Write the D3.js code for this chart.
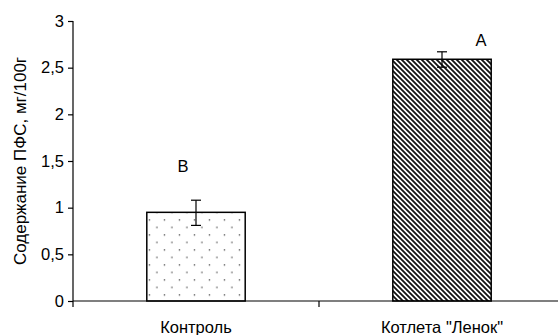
<!DOCTYPE html>
<html>
<head>
<meta charset="utf-8">
<script src="https://d3js.org/d3.v7.min.js"></script>
<style>
  body { margin: 0; background: #fff; }
  text { font-family: "Liberation Sans", Arial, sans-serif; }
</style>
</head>
<body>
<div id="chart"></div>
<script>
// data
const categories = ["Контроль", "Котлета \"Ленок\""];
const values = [0.95, 2.59];
const errLow = [0.81, 2.505];
const errHigh = [1.08, 2.67];
const letters = ["B", "A"];
const yTicks = [0, 0.5, 1, 1.5, 2, 2.5, 3];
const yTickLabels = ["0", "0,5", "1", "1,5", "2", "2,5", "3"];

const W = 558, H = 335;
const margin = {top: 21, right: -7, bottom: 34, left: 73};
const width = W - margin.left - margin.right,
      height = H - margin.top - margin.bottom;
const fs = "16.5px";

const svg = d3.select("#chart").append("svg")
    .attr("width", W)
    .attr("height", H);

const defs = svg.append("defs");

const g = svg.append("g")
    .attr("transform", "translate(" + margin.left + "," + margin.top + ")");

const x = d3.scaleBand()
    .domain(categories)
    .range([0, width])
    .paddingInner(0.6)
    .paddingOuter(0.3);

// band boundaries for the category axis ticks
const xb = d3.scaleBand().domain(categories).range([0, width]);

const y = d3.scaleLinear()
    .domain([0, 3])
    .range([height, 0]);

// patterns
const dots = defs.append("pattern")
    .attr("id", "dots")
    .attr("patternUnits", "userSpaceOnUse")
    .attr("x", margin.left + x(categories[0]))
    .attr("y", margin.top + y(values[0]))
    .attr("width", 15)
    .attr("height", 15);
dots.append("rect").attr("width", 15).attr("height", 15).attr("fill", "#fff");
dots.append("rect").attr("x", 4).attr("y", 1).attr("width", 1.2).attr("height", 1.2).attr("fill", "#222");
dots.append("rect").attr("x", 11.5).attr("y", 8.5).attr("width", 1.2).attr("height", 1.2).attr("fill", "#222");

const hatch = defs.append("pattern")
    .attr("id", "hatch")
    .attr("patternUnits", "userSpaceOnUse")
    .attr("width", 5)
    .attr("height", 5);
hatch.append("rect").attr("width", 5).attr("height", 5).attr("fill", "#fff");
hatch.append("path")
    .attr("d", "M-1,-1 L6,6 M-1,4 L1,6 M4,-1 L6,1")
    .attr("stroke", "#111")
    .attr("stroke-width", 1.8);

const fills = ["url(#dots)", "url(#hatch)"];

// bars
g.selectAll(".bar")
    .data(values)
    .enter()
    .append("rect")
    .attr("class", "bar")
    .attr("x", (d, i) => x(categories[i]))
    .attr("y", d => y(d))
    .attr("width", x.bandwidth())
    .attr("height", d => height - y(d))
    .attr("fill", (d, i) => fills[i])
    .attr("stroke", "#000")
    .attr("stroke-width", 1.5);

// error bars
const cap = 5;
values.forEach(function(d, i) {
    const cx = x(categories[i]) + x.bandwidth() / 2;
    g.append("line")
        .attr("x1", cx).attr("x2", cx)
        .attr("y1", y(errLow[i])).attr("y2", y(errHigh[i]))
        .attr("stroke", "#000").attr("stroke-width", 1.2);
    [errLow[i], errHigh[i]].forEach(function(v) {
        g.append("line")
            .attr("x1", cx - cap).attr("x2", cx + cap)
            .attr("y1", y(v)).attr("y2", y(v))
            .attr("stroke", "#000").attr("stroke-width", 1.2);
    });
});

// letters (baseline offsets above the error bar tops)
const letterDx = [-13, 39];
const letterDy = [28, 6];
g.selectAll(".letter")
    .data(letters)
    .enter()
    .append("text")
    .attr("class", "letter")
    .attr("x", (d, i) => x(categories[i]) + x.bandwidth() / 2 + letterDx[i])
    .attr("y", (d, i) => y(errHigh[i]) - letterDy[i])
    .attr("text-anchor", "middle")
    .style("font-size", fs)
    .text(d => d);

// y axis
const yAxis = d3.axisLeft(y)
    .tickValues(yTicks)
    .tickFormat((d, i) => yTickLabels[i])
    .tickSize(5)
    .tickPadding(4);
const ya = g.append("g").call(yAxis);
ya.select(".domain").attr("d", "M0,0V" + height).attr("stroke-width", 1.2);
ya.selectAll("line").attr("stroke-width", 1.2);
ya.selectAll("text").style("font-size", fs).style("font-family", "'Liberation Sans', Arial, sans-serif");

// x axis with ticks at band edges
const xa = g.append("g").attr("transform", "translate(0," + height + ")");
xa.append("line")
    .attr("x1", 0).attr("x2", width)
    .attr("stroke", "#000").attr("stroke-width", 1.2);
xa.selectAll(".tk")
    .data([0, xb(categories[1])])
    .enter()
    .append("line")
    .attr("x1", d => d).attr("x2", d => d)
    .attr("y1", 0).attr("y2", 6)
    .attr("stroke", "#000").attr("stroke-width", 1.2);
xa.selectAll(".cat")
    .data(categories)
    .enter()
    .append("text")
    .attr("x", d => xb(d) + xb.bandwidth() / 2)
    .attr("y", 32)
    .attr("text-anchor", "middle")
    .style("font-size", fs)
    .text(d => d);

// y label
g.append("text")
    .attr("transform", "translate(" + (-47) + "," + (height / 2) + ") rotate(-90)")
    .attr("text-anchor", "middle")
    .style("font-size", "17px")
    .text("Содержание ПФС, мг/100г");
</script>
</body>
</html>
